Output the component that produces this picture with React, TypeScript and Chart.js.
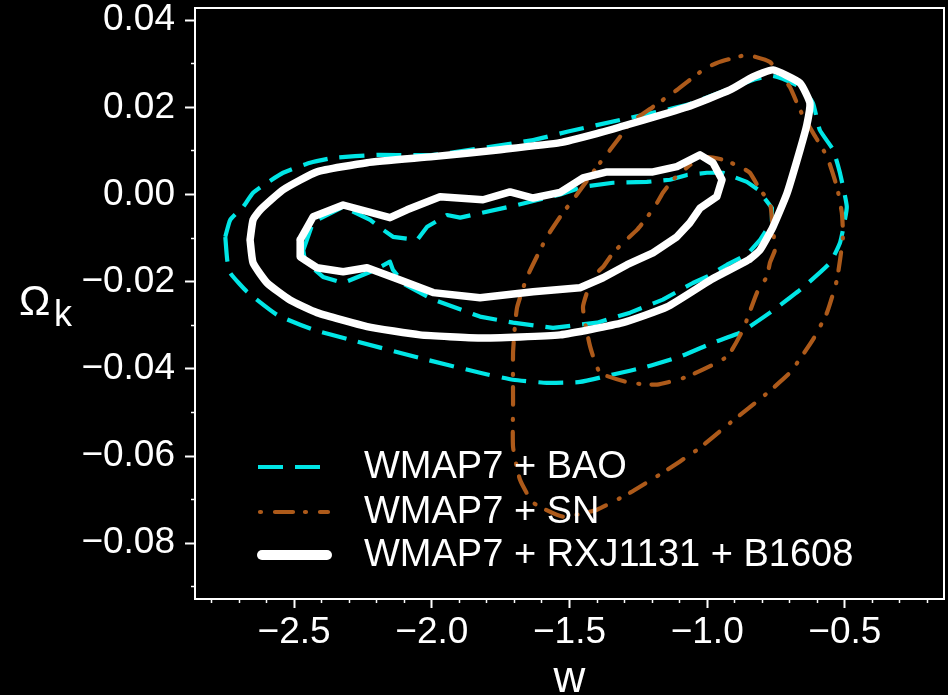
import React, { useEffect, useRef } from 'react';
import { Chart, registerables } from 'chart.js';

Chart.register(...registerables);

type Pt = [number, number];

// Axis ranges and ticks
const X_MIN = -2.86;
const X_MAX = -0.14;
const Y_MIN = -0.0928;
const Y_MAX = 0.0428;
const X_MAJOR_TICKS = [-2.5, -2.0, -1.5, -1.0, -0.5];
const X_MINOR_TICKS = [-2.8, -2.7, -2.6, -2.4, -2.3, -2.2, -2.1, -1.9, -1.8, -1.7, -1.6, -1.4, -1.3, -1.2, -1.1, -0.9, -0.8, -0.7, -0.6, -0.4, -0.3, -0.2];
const Y_MAJOR_TICKS = [0.04, 0.02, 0.0, -0.02, -0.04, -0.06, -0.08];
const Y_MINOR_TICKS = [0.03, 0.01, -0.01, -0.03, -0.05, -0.07, -0.09];

const X_TITLE = 'w';
const Y_TITLE_MAIN = 'Ω';
const Y_TITLE_SUB = 'k';

// Series
const SERIES_LABELS = ['WMAP7 + BAO', 'WMAP7 + SN', 'WMAP7 + RXJ1131 + B1608'];
const SERIES_COLORS = ['#00e6e6', '#ad5a1a', '#ffffff'];

// WMAP7 + BAO contours (w, Omega_k)
const baoOuter: Pt[] = [
  [-2.750, -0.0097], [-2.732, -0.0058], [-2.685, -0.0028], [-2.649, 0.0004], [-2.598, 0.0027],
  [-2.540, 0.0050], [-2.442, 0.0073], [-2.358, 0.0084], [-2.199, 0.0091], [-1.995, 0.0091],
  [-1.632, 0.0125], [-1.509, 0.0144], [-1.317, 0.0171], [-1.073, 0.0206], [-0.834, 0.0263],
  [-0.761, 0.0272], [-0.663, 0.0247], [-0.616, 0.0210], [-0.591, 0.0148], [-0.543, 0.0103],
  [-0.518, 0.0050], [-0.493, -0.0028], [-0.507, -0.0081], [-0.518, -0.0111], [-0.554, -0.0157],
  [-0.663, -0.0219], [-0.772, -0.0271], [-0.881, -0.0317], [-0.979, -0.0340], [-1.099, -0.0372],
  [-1.219, -0.0395], [-1.342, -0.0413], [-1.462, -0.0430], [-1.582, -0.0432], [-1.705, -0.0425],
  [-1.825, -0.0409], [-2.043, -0.0375], [-2.297, -0.0333], [-2.431, -0.0310], [-2.562, -0.0276],
  [-2.671, -0.0223], [-2.732, -0.0180], [-2.743, -0.0150], [-2.750, -0.0097],
];
const baoInner: Pt[] = [
  [-2.467, -0.0128], [-2.431, -0.0063], [-2.322, -0.0028], [-2.224, -0.0058], [-2.177, -0.0081],
  [-2.141, -0.0097], [-2.053, -0.0104], [-2.017, -0.0074], [-1.945, -0.0047], [-1.897, -0.0053],
  [-1.690, -0.0024], [-1.534, 0.0000], [-1.451, 0.0018], [-1.342, 0.0027], [-1.219, 0.0029],
  [-1.135, 0.0034], [-1.073, 0.0045], [-1.001, 0.0050], [-0.943, 0.0050], [-0.856, 0.0029],
  [-0.815, 0.0011], [-0.765, -0.0031], [-0.765, -0.0063], [-0.808, -0.0104], [-0.856, -0.0138],
  [-0.928, -0.0161], [-0.997, -0.0187], [-1.052, -0.0203], [-1.161, -0.0241], [-1.280, -0.0271],
  [-1.400, -0.0294], [-1.560, -0.0306], [-1.705, -0.0294], [-1.825, -0.0280], [-1.995, -0.0241],
  [-2.097, -0.0207], [-2.141, -0.0173], [-2.152, -0.0154], [-2.206, -0.0173], [-2.322, -0.0203],
  [-2.395, -0.0189], [-2.460, -0.0154], [-2.467, -0.0128],
];

// WMAP7 + SN contours
const snOuter: Pt[] = [
  [-1.389, 0.0073], [-1.353, 0.0102], [-1.317, 0.0132], [-1.280, 0.0164], [-1.197, 0.0201],
  [-1.110, 0.0240], [-1.015, 0.0286], [-0.965, 0.0302], [-0.856, 0.0320], [-0.772, 0.0304],
  [-0.700, 0.0247], [-0.663, 0.0194], [-0.616, 0.0142], [-0.565, 0.0087], [-0.529, 0.0018],
  [-0.511, -0.0042], [-0.507, -0.0097], [-0.529, -0.0196], [-0.565, -0.0271], [-0.616, -0.0333],
  [-0.700, -0.0409], [-0.798, -0.0464], [-0.917, -0.0524], [-1.037, -0.0586], [-1.161, -0.0638],
  [-1.280, -0.0684], [-1.400, -0.0723], [-1.524, -0.0739], [-1.632, -0.0707], [-1.680, -0.0654],
  [-1.705, -0.0579], [-1.705, -0.0478], [-1.705, -0.0363], [-1.698, -0.0300], [-1.690, -0.0258],
  [-1.654, -0.0189], [-1.582, -0.0097], [-1.524, -0.0042], [-1.487, -0.0012], [-1.389, 0.0073],
];
const snInner: Pt[] = [
  [-1.063, 0.0068], [-1.001, 0.0086], [-0.943, 0.0080], [-0.881, 0.0064], [-0.845, 0.0050],
  [-0.808, 0.0011], [-0.772, -0.0019], [-0.761, -0.0081], [-0.754, -0.0127], [-0.772, -0.0156],
  [-0.783, -0.0188], [-0.819, -0.0225], [-0.870, -0.0310], [-0.928, -0.0372], [-1.073, -0.0418],
  [-1.182, -0.0436], [-1.280, -0.0432], [-1.389, -0.0409], [-1.425, -0.0349], [-1.451, -0.0258],
  [-1.415, -0.0189], [-1.378, -0.0166], [-1.342, -0.0134], [-1.306, -0.0111], [-1.255, -0.0081],
  [-1.219, -0.0053], [-1.182, -0.0019], [-1.161, 0.0004], [-1.124, 0.0034], [-1.063, 0.0068],
];

// WMAP7 + RXJ1131 + B1608 contours
const lensOuter: Pt[] = [
  [-2.660, -0.0104], [-2.649, -0.0058], [-2.623, -0.0035], [-2.540, 0.0011], [-2.417, 0.0052],
  [-2.235, 0.0073], [-1.995, 0.0087], [-1.752, 0.0103], [-1.534, 0.0119], [-1.389, 0.0142],
  [-1.317, 0.0155], [-1.073, 0.0201], [-0.917, 0.0240], [-0.834, 0.0270], [-0.761, 0.0286],
  [-0.663, 0.0256], [-0.627, 0.0210], [-0.638, 0.0160], [-0.663, 0.0102], [-0.710, 0.0003],
  [-0.761, -0.0074], [-0.808, -0.0127], [-0.850, -0.0150], [-0.985, -0.0195], [-1.146, -0.0258],
  [-1.306, -0.0294], [-1.534, -0.0322], [-1.825, -0.0329], [-2.043, -0.0322], [-2.235, -0.0303],
  [-2.417, -0.0271], [-2.515, -0.0242], [-2.598, -0.0203], [-2.649, -0.0157], [-2.660, -0.0104],
];
const lensInner: Pt[] = [
  [-2.478, -0.0104], [-2.431, -0.0051], [-2.322, -0.0024], [-2.152, -0.0053], [-2.090, -0.0035],
  [-1.970, -0.0005], [-1.814, -0.0012], [-1.716, 0.0006], [-1.632, -0.0008], [-1.534, 0.0005],
  [-1.451, 0.0038], [-1.364, 0.0052], [-1.197, 0.0052], [-1.110, 0.0064], [-1.026, 0.0091],
  [-0.979, 0.0073], [-0.946, 0.0034], [-0.965, -0.0005], [-1.026, -0.0031], [-1.063, -0.0065],
  [-1.110, -0.0097], [-1.197, -0.0134], [-1.291, -0.0161], [-1.378, -0.0191], [-1.462, -0.0214],
  [-1.632, -0.0223], [-1.825, -0.0237], [-1.995, -0.0225], [-2.115, -0.0196], [-2.235, -0.0168],
  [-2.322, -0.0177], [-2.417, -0.0168], [-2.478, -0.0143], [-2.478, -0.0104],
];

const FONT = "'Liberation Sans', Arial, Helvetica, sans-serif";
const CYAN_DASH = [25, 12];
const ORANGE_DASH = [1, 14, 18, 12];

const X_TICKS = [...X_MAJOR_TICKS, ...X_MINOR_TICKS].sort((a, b) => a - b);
const Y_TICKS = [...Y_MAJOR_TICKS, ...Y_MINOR_TICKS].sort((a, b) => a - b);
const isMajorX = (v: number) => X_MAJOR_TICKS.some((m) => Math.abs(m - v) < 1e-9);
const isMajorY = (v: number) => Y_MAJOR_TICKS.some((m) => Math.abs(m - v) < 1e-9);
const fmt = (v: number, d: number) => (v < -1e-12 ? '\u2212' : '') + Math.abs(v).toFixed(d);
const toXY = (pts: Pt[]) => pts.map(([x, y]) => ({ x, y }));

const contour = (
  pts: Pt[], label: string, color: string, width: number, dash: number[],
  cap: CanvasLineCap, order: number, tension: number,
) => ({
  label,
  data: toXY(pts),
  showLine: true,
  borderColor: color,
  backgroundColor: color,
  borderWidth: width,
  borderDash: dash,
  borderCapStyle: cap,
  borderJoinStyle: 'round' as CanvasLineJoin,
  pointRadius: 0,
  pointHoverRadius: 0,
  fill: false,
  tension,
  order,
});

export default function App() {
  const ref = useRef<HTMLCanvasElement>(null);

  useEffect(() => {
    const canvas = ref.current;
    if (!canvas) return;
    document.body.style.margin = '0';
    document.body.style.background = '#000';

    const decorations = {
      id: 'decorations',
      beforeDraw(chart: any) {
        const { ctx, width, height } = chart;
        ctx.save();
        ctx.fillStyle = '#000';
        ctx.fillRect(0, 0, width, height);
        ctx.restore();
      },
      afterDraw(chart: any) {
        const { ctx, chartArea: a } = chart;
        ctx.save();
        // frame
        ctx.setLineDash([]);
        ctx.strokeStyle = '#fff';
        ctx.lineWidth = 2;
        ctx.strokeRect(a.left, a.top, a.right - a.left, a.bottom - a.top);

        // legend
        const rows = [
          { y: a.top + 459, color: SERIES_COLORS[0], width: 4.2, dash: CYAN_DASH, cap: 'butt', x0: 63, x1: 127 },
          { y: a.top + 504, color: SERIES_COLORS[1], width: 4.2, dash: ORANGE_DASH, cap: 'round', x0: 65, x1: 133 },
          { y: a.top + 547, color: SERIES_COLORS[2], width: 10, dash: [] as number[], cap: 'round', x0: 67, x1: 132 },
        ];
        rows.forEach((r, i) => {
          ctx.beginPath();
          ctx.strokeStyle = r.color;
          ctx.lineWidth = r.width;
          ctx.lineCap = r.cap as CanvasLineCap;
          ctx.setLineDash(r.dash);
          ctx.moveTo(a.left + r.x0, r.y);
          ctx.lineTo(a.left + r.x1, r.y);
          ctx.stroke();
          ctx.setLineDash([]);
          ctx.fillStyle = '#fff';
          ctx.font = `38px ${FONT}`;
          ctx.textAlign = 'left';
          ctx.textBaseline = 'middle';
          ctx.fillText(SERIES_LABELS[i], a.left + 169, r.y + 1);
        });

        // y-axis title (horizontal, with subscript)
        ctx.fillStyle = '#fff';
        ctx.textAlign = 'left';
        ctx.textBaseline = 'alphabetic';
        ctx.font = `42px ${FONT}`;
        ctx.fillText(Y_TITLE_MAIN, 19, 315);
        ctx.font = `36px ${FONT}`;
        ctx.fillText(Y_TITLE_SUB, 54, 326);
        ctx.restore();
      },
    };

    const chart = new Chart(canvas, {
      type: 'scatter',
      data: {
        datasets: [
          contour(lensOuter, SERIES_LABELS[2], SERIES_COLORS[2], 7.5, [], 'round', 0, 0.15),
          contour(lensInner, SERIES_LABELS[2], SERIES_COLORS[2], 7.5, [], 'round', 0, 0),
          contour(snOuter, SERIES_LABELS[1], SERIES_COLORS[1], 4.2, ORANGE_DASH, 'round', 1, 0.15),
          contour(snInner, SERIES_LABELS[1], SERIES_COLORS[1], 4.2, ORANGE_DASH, 'round', 1, 0.15),
          contour(baoOuter, SERIES_LABELS[0], SERIES_COLORS[0], 4.2, CYAN_DASH, 'butt', 2, 0.15),
          contour(baoInner, SERIES_LABELS[0], SERIES_COLORS[0], 4.2, CYAN_DASH, 'butt', 2, 0),
        ] as any,
      },
      options: {
        responsive: false,
        animation: false,
        devicePixelRatio: 1,
        events: [],
        layout: { padding: { top: 8, right: 4, left: 0, bottom: 0 } },
        plugins: {
          legend: { display: false },
          tooltip: { enabled: false },
          title: { display: false },
        },
        scales: {
          x: {
            type: 'linear',
            position: 'bottom',
            min: X_MIN,
            max: X_MAX,
            bounds: 'data',
            afterBuildTicks: (s: any) => {
              s.ticks = X_TICKS.map((v) => ({ value: v }));
            },
            afterFit: (s: any) => {
              s.height = 96;
              s.paddingLeft = 0;
              s.paddingRight = 0;
              s.paddingTop = 0;
              s.paddingBottom = 0;
            },
            ticks: {
              autoSkip: false,
              maxRotation: 0,
              minRotation: 0,
              padding: 3,
              color: '#fff',
              font: { family: FONT, size: 37 },
              callback: (v: any) => (isMajorX(Number(v)) ? fmt(Number(v), 1) : ''),
            },
            grid: {
              display: true,
              drawOnChartArea: false,
              drawTicks: true,
              tickLength: 9,
              tickColor: '#fff',
              tickWidth: (c: any) => (c.tick && !isMajorX(c.tick.value) ? 1.5 : 2),
              tickBorderDash: (c: any) => (c.tick && !isMajorX(c.tick.value) ? [3, 100] : []),
              tickBorderDashOffset: 0,
            },
            border: { display: true, color: '#fff', width: 2 },
            title: {
              display: true,
              text: X_TITLE,
              color: '#fff',
              font: { family: FONT, size: 44, lineHeight: 0.7 },
              padding: { top: 0, bottom: 0 },
            },
          },
          y: {
            type: 'linear',
            position: 'left',
            min: Y_MIN,
            max: Y_MAX,
            bounds: 'data',
            afterBuildTicks: (s: any) => {
              s.ticks = Y_TICKS.map((v) => ({ value: v }));
            },
            afterFit: (s: any) => {
              s.width = 195;
              s.paddingLeft = 0;
              s.paddingRight = 0;
              s.paddingTop = 0;
              s.paddingBottom = 0;
            },
            ticks: {
              autoSkip: false,
              padding: 10,
              color: '#fff',
              font: { family: FONT, size: 37 },
              callback: (v: any) => (isMajorY(Number(v)) ? fmt(Number(v), 2) : ''),
            },
            grid: {
              display: true,
              drawOnChartArea: false,
              drawTicks: true,
              tickLength: 10,
              tickColor: '#fff',
              tickWidth: (c: any) => (c.tick && !isMajorY(c.tick.value) ? 1.5 : 2),
              tickBorderDash: (c: any) => (c.tick && !isMajorY(c.tick.value) ? [3, 100] : []),
              tickBorderDashOffset: (c: any) => (c.tick && !isMajorY(c.tick.value) ? 97 : 0),
            },
            border: { display: true, color: '#fff', width: 2 },
            title: { display: false },
          },
        },
      } as any,
      plugins: [decorations],
    });

    return () => chart.destroy();
  }, []);

  return (
    <div style={{ position: 'fixed', left: 0, top: 0, width: 948, height: 695, background: '#000' }}>
      <canvas ref={ref} width={948} height={695} style={{ display: 'block', width: 948, height: 695 }} />
    </div>
  );
}
